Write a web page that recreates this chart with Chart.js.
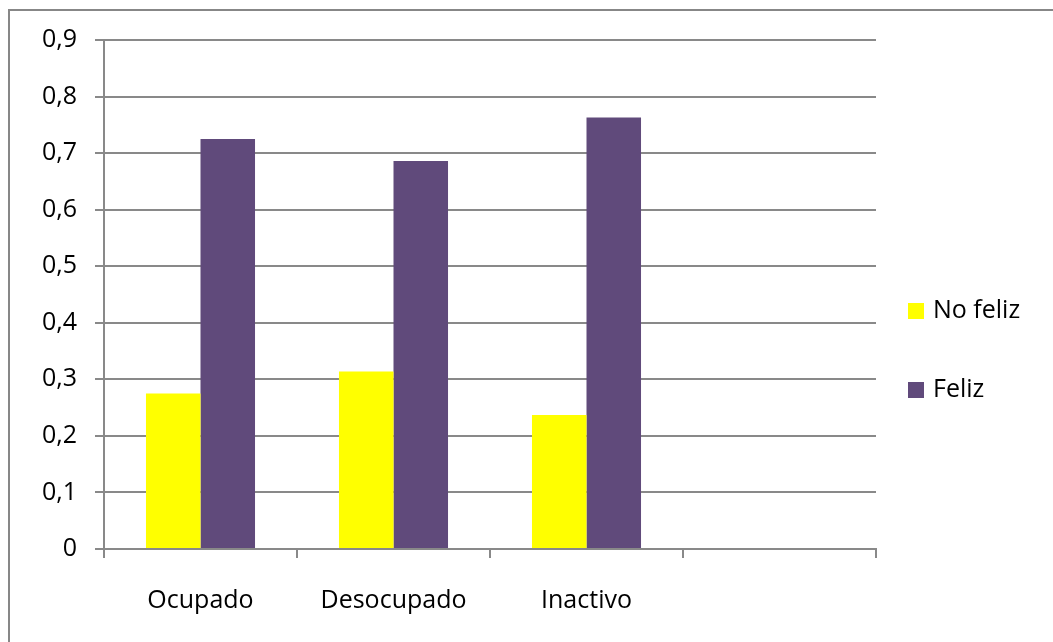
<!DOCTYPE html>
<html>
<head>
<meta charset="utf-8">
<script src="https://cdn.jsdelivr.net/npm/chart.js@4/dist/chart.umd.min.js"></script>
<style>
    html, body { margin: 0; padding: 0; background: #fff; overflow: hidden; }
    #frame { position: absolute; left: 8px; top: 9px; width: 1100px; height: 700px; border: 2px solid #878787; }
    #wrap { position: absolute; left: 0; top: 0; width: 1053px; height: 642px; }
</style>
</head>
<body>
<div id="frame"></div>
<div id="wrap"><canvas id="grafico"></canvas></div>
<script>
// categorias del eje x (la cuarta queda vacia)
var categorias = ['Ocupado', 'Desocupado', 'Inactivo', ''];
var noFeliz = [0.275, 0.314, 0.237, null];
var feliz = [0.725, 0.686, 0.763, null];
var yTicks = [0, 0.1, 0.2, 0.3, 0.4, 0.5, 0.6, 0.7, 0.8, 0.9];

var gris = '#898989';
var fuente = { family: "'Open Sans', 'DejaVu Sans', sans-serif", size: 25 };

function formatoComa(v){
    if(v === 0) return '0';
    return (Math.round(v * 10) / 10).toFixed(1).replace('.', ',');
}

// leyenda dibujada a mano, cuadrado + texto a la derecha del grafico
var leyenda = {
    id: 'leyendaDerecha',
    afterDraw: function(chart){
        var ctx = chart.ctx;
        var x = chart.chartArea.right + 32;
        var y = 311;
        ctx.save();
        ctx.font = fuente.size + 'px ' + fuente.family;
        ctx.textBaseline = 'middle';
        chart.data.datasets.forEach(function(ds){
            ctx.fillStyle = ds.backgroundColor;
            ctx.fillRect(x, y - 8, 16, 16);
            ctx.fillStyle = '#000';
            ctx.fillText(ds.label, x + 25, y);
            y += 79;
        });
        ctx.restore();
    }
};

var ctx = document.getElementById('grafico').getContext('2d');
var chart = new Chart(ctx, {
    type: 'bar',
    data: {
        labels: categorias,
        datasets: [{
            label: 'No feliz',
            backgroundColor: '#FFFF00',
            data: noFeliz
        }, {
            label: 'Feliz',
            backgroundColor: '#604A7B',
            data: feliz
        }]
    },
    options: {
        responsive: true,
        maintainAspectRatio: false,
        animation: false,
        categoryPercentage: 0.565,
        barPercentage: 1,
        layout: { padding: { left: 42, right: 177, top: 40, bottom: 22 } },
        plugins: {
            legend: { display: false },
            tooltip: { enabled: false }
        },
        scales: {
            x: {
                offset: true,
                afterFit: function(scale){ scale.height = 71; },
                grid: {
                    offset: true,
                    drawOnChartArea: false,
                    drawTicks: true,
                    tickLength: 9,
                    color: gris,
                    lineWidth: 2
                },
                border: { color: gris, width: 2 },
                ticks: { color: '#000', font: fuente, padding: 28, maxRotation: 0 }
            },
            y: {
                min: 0,
                max: 0.9,
                afterFit: function(scale){ scale.width = 62; },
                afterBuildTicks: function(scale){
                    scale.ticks = yTicks.map(function(v){ return { value: v }; });
                },
                grid: {
                    color: gris,
                    lineWidth: 2,
                    drawTicks: true,
                    tickLength: 9
                },
                border: { color: gris, width: 2 },
                ticks: {
                    color: '#000',
                    font: fuente,
                    padding: 18,
                    callback: function(v){ return formatoComa(v); }
                }
            }
        }
    },
    plugins: [leyenda]
});
</script>
</body>
</html>
